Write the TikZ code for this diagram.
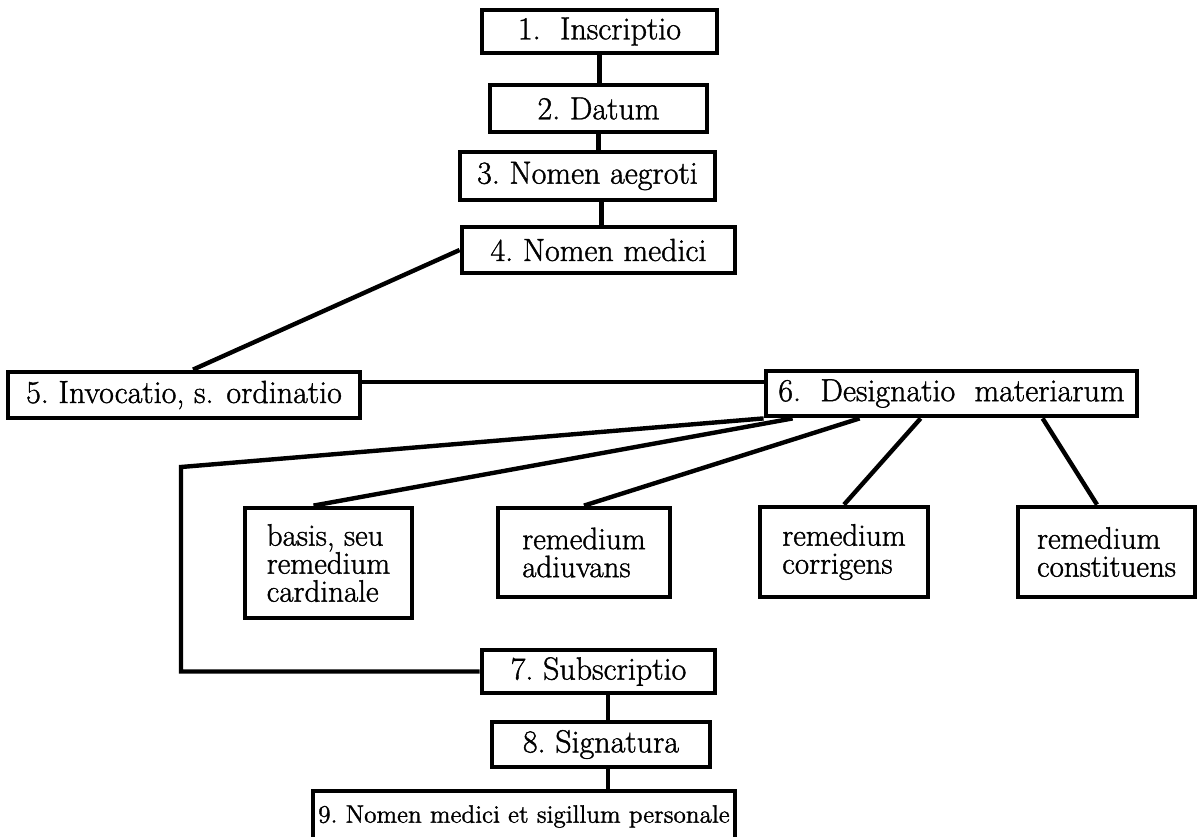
\documentclass[tikz,border=0pt]{standalone}
\usepackage{fontspec}
\setmainfont{Latin Modern Roman}[FakeBold=1.2]
\usetikzlibrary{calc}
\begin{document}
\begin{tikzpicture}[x=0.5pt,y=-0.5pt,
  box/.style={draw, line width=2.4pt, inner sep=0pt, fill=white,
    font=\fontsize{16}{14}\selectfont},
  small/.style={box, align=left, font=\fontsize{15.5}{14}\selectfont},
  link/.style={line width=2.2pt}]
\useasboundingbox (0,0) rectangle (1198,836);

\coordinate (k) at (181,467);

% main column
\node[box, minimum width=117.5pt, minimum height=21.5pt] (b1) at (599.5,31.5) {1.\ \ Inscriptio};
\node[box, minimum width=108.5pt, minimum height=23.5pt] (b2) at (598.5,108.5) {2.\ Datum};
\node[box, minimum width=127.5pt, minimum height=24pt] (b3) at (587.5,176) {3.\ Nomen aegroti};
\node[box, minimum width=136.5pt, minimum height=23pt] (b4) at (598.5,250) {4.\ Nomen medici};
\node[box, minimum width=176pt, minimum height=23pt] (b5) at (184,395) {5.\ Invocatio, s. ordinatio};
\node[box, minimum width=185.5pt, minimum height=22.5pt] (b6) at (951.5,393.5) {6.\ \ Designatio\ \ materiarum};

% parts of the designatio
\node[small, minimum width=83.5pt, minimum height=55pt] (basis) at (328.5,563) {basis, seu\\remedium\\cardinale};
\node[small, minimum width=86pt, minimum height=44.5pt] (adiuv) at (584,552.5) {remedium\\adiuvans};
\node[small, minimum width=84pt, minimum height=45pt] (corr) at (844,552) {remedium\\corrigens};
\node[small, minimum width=88.5pt, minimum height=45pt] (const) at (1106.5,552) {remedium\\constituens};

% closing part
\node[box, minimum width=116.5pt, minimum height=21.5pt] (b7) at (598.5,671.5) {7.\ Subscriptio};
\node[box, minimum width=109pt, minimum height=22.5pt] (b8) at (601,744.5) {8.\ Signatura};
\node[box, minimum width=211pt, minimum height=25.5pt, font=\fontsize{12.6}{14}\selectfont] (b9) at (524,816.5) {9.\ Nomen medici et sigillum personale};

% links of the column
\draw[link] (b1.south) -- (b1.south |- b2.north);
\draw[link] (b2.south) -- (b2.south |- b3.north);
\draw[link] ([xshift=7pt]b3.south) -- ([xshift=7pt]b3.south |- b4.north);
\draw[link] (b4.west) -- ($(b5.north)+(9,0)$);
\draw[link] ([yshift=6.5pt]b5.east) -- ([yshift=6.5pt]b5.east -| b6.west);

% links from the designatio
\draw[link] (b6.south west) -- (k) |- (b7.west);
\draw[link] ($(b6.south west)+(29,0)$) -- ($(basis.north)+(-15,0)$);
\draw[link] ($(b6.south west)+(96,0)$) -- (adiuv.north);
\draw[link] ($(b6.south west)+(157,0)$) -- (corr.north);
\draw[link] ($(b6.south west)+(279,0)$) -- ($(const.north)+(-9.5,0)$);

% links of the closing part
\draw[link] ([xshift=3.5pt]b8.north) -- ([xshift=3.5pt]b8.north |- b7.south);
\draw[link] ([xshift=3.5pt]b8.south) -- ([xshift=3.5pt]b8.south |- b9.north);
\end{tikzpicture}
\end{document}
